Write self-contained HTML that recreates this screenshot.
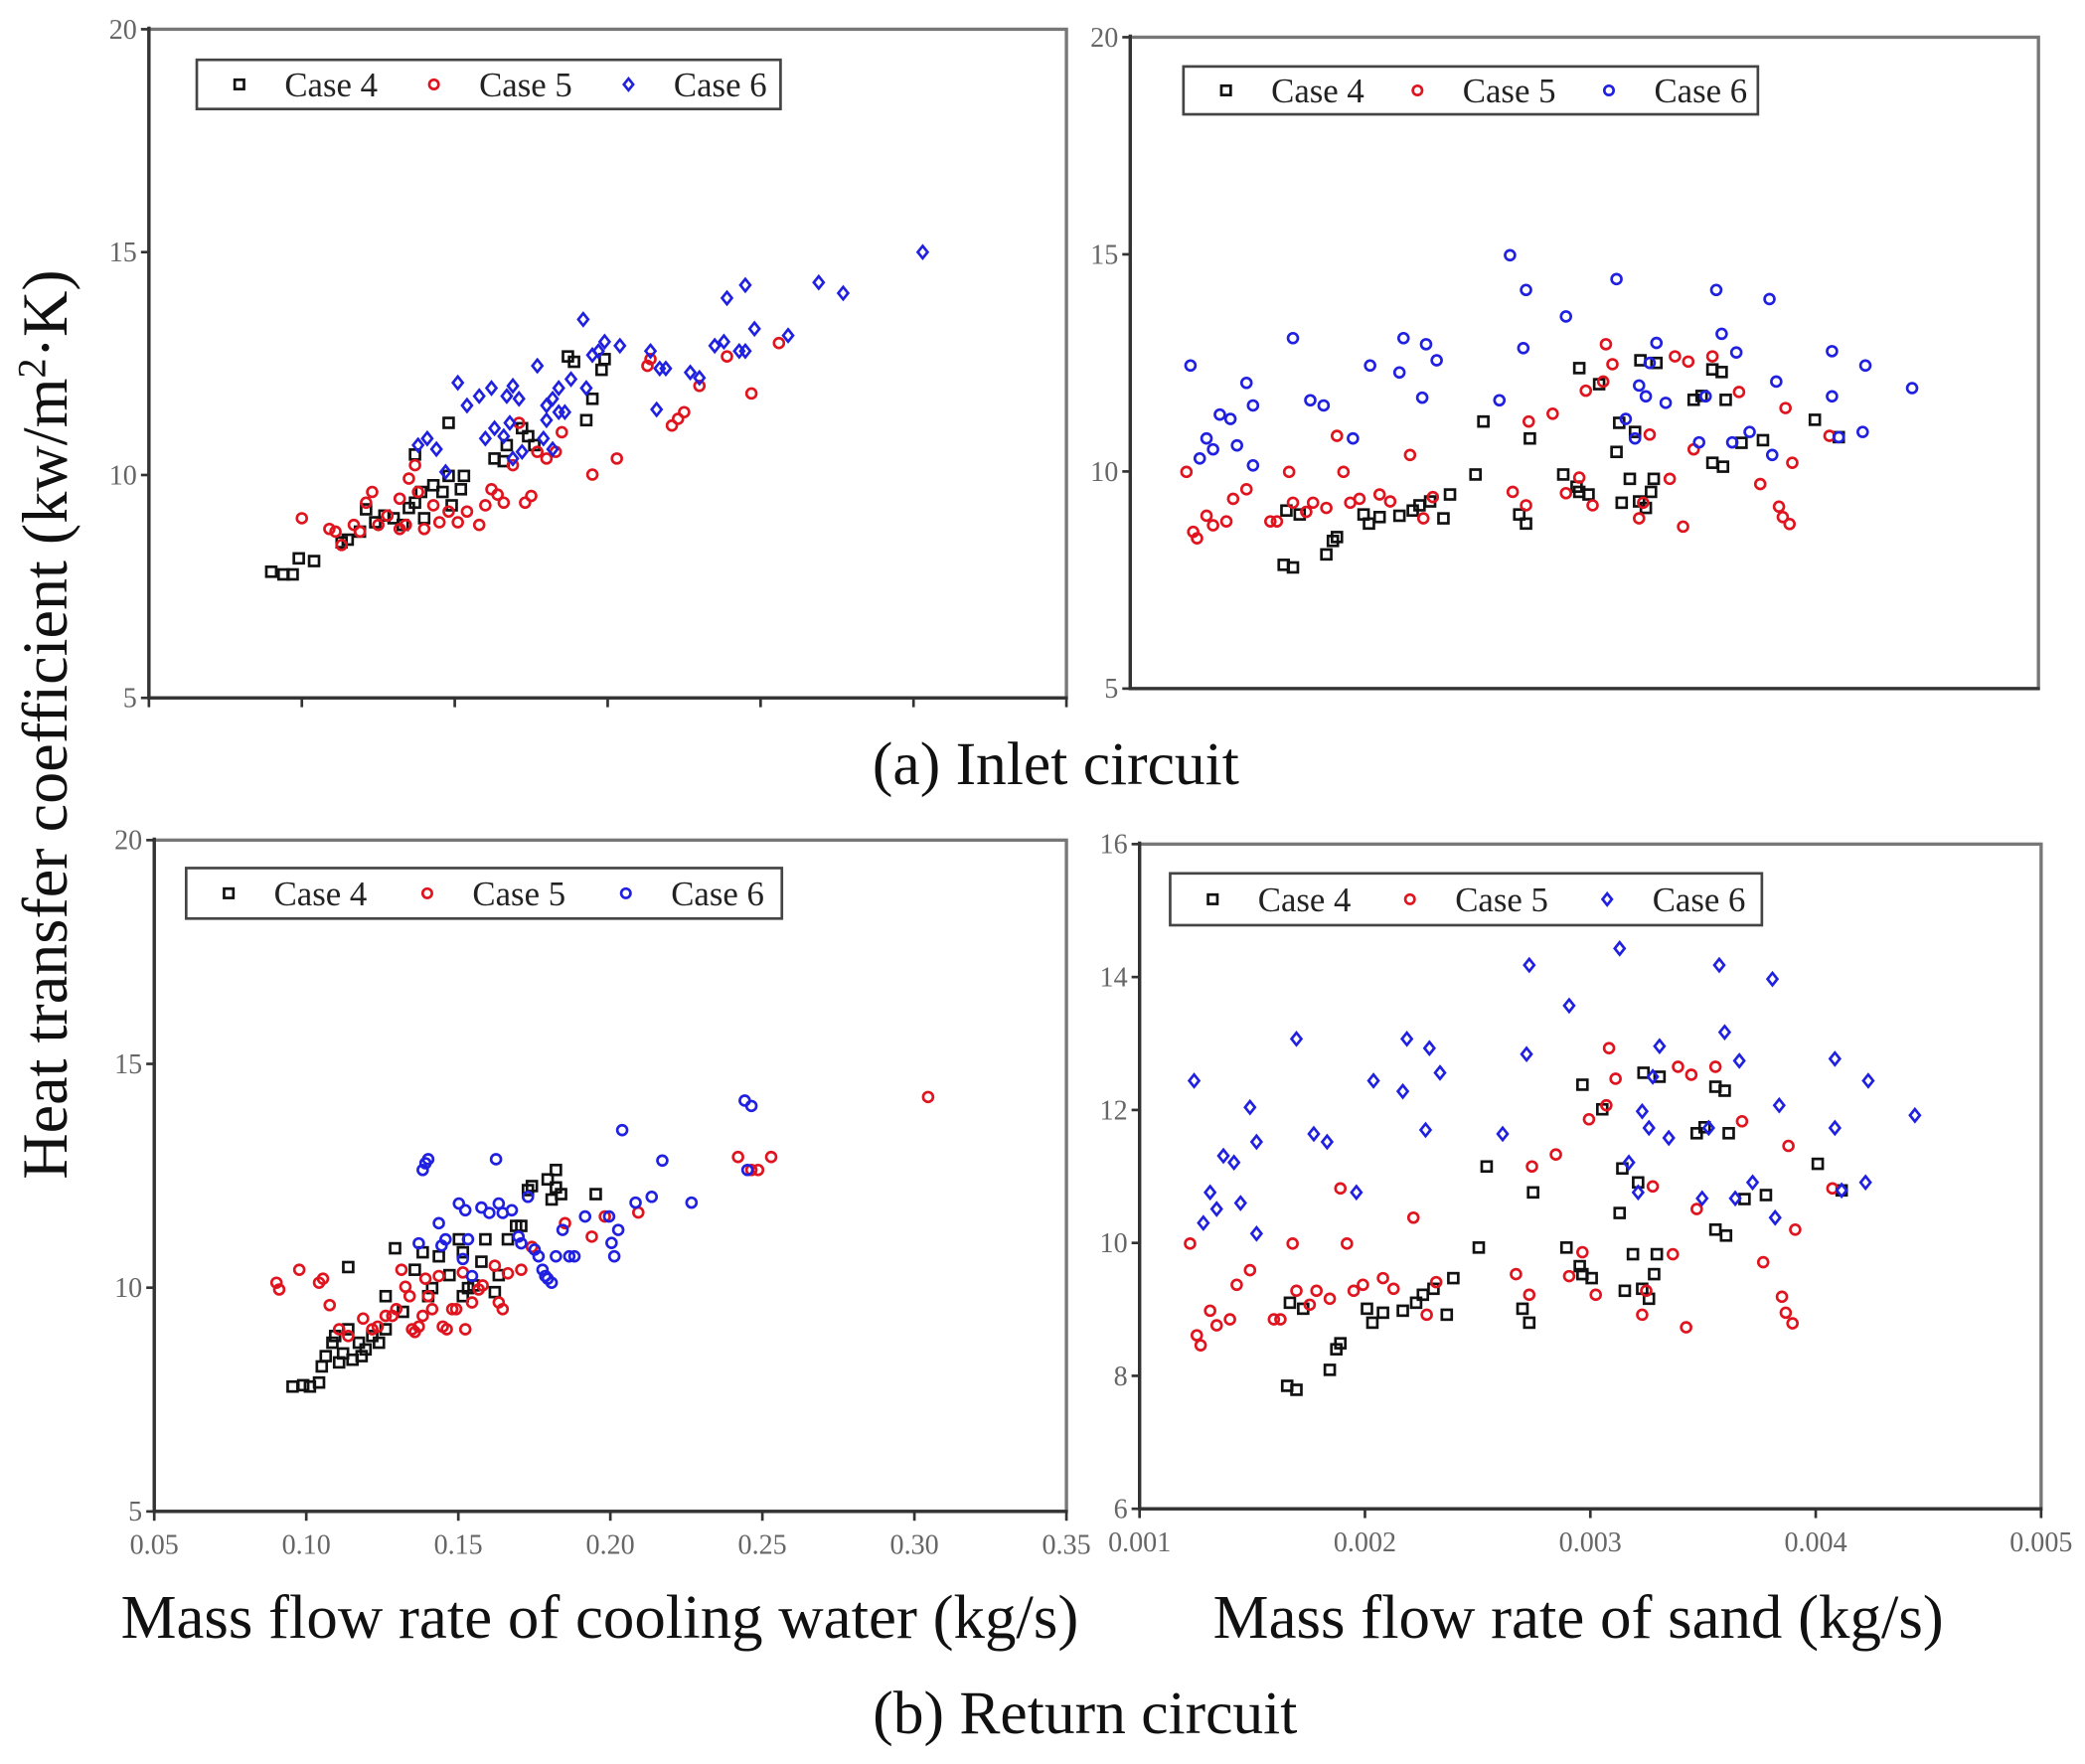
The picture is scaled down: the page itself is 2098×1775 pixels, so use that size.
<!DOCTYPE html>
<html><head><meta charset="utf-8"><style>
html,body{margin:0;padding:0;background:#fff;}
svg{display:block;}
text{font-family:"Liberation Serif",serif;}
</style></head><body>
<svg id="fig" width="2098" height="1775" viewBox="0 0 1568 1327" preserveAspectRatio="none" xmlns="http://www.w3.org/2000/svg">
<text x="50" y="545" font-size="48" transform="rotate(-90 50 545)" text-anchor="middle" fill="#111">Heat transfer coefficient (kw/m<tspan font-size="30" dy="-16">2</tspan><tspan dy="16">·K)</tspan></text>
<text x="794" y="590" font-size="46" text-anchor="middle" fill="#111">(a) Inlet  circuit</text>
<text x="816" y="1304" font-size="46" text-anchor="middle" fill="#111">(b) Return circuit</text>
<text x="451" y="1232" font-size="47" text-anchor="middle" fill="#111">Mass flow rate of cooling water (kg/s)</text>
<text x="1187" y="1232" font-size="47" text-anchor="middle" fill="#111">Mass flow rate of sand (kg/s)</text>
</svg>
<script>
// ---- Inlet circuit, cooling water (top-left) ----
const tlCase4X=[0.090,0.094,0.097,0.099,0.104,0.113,0.115,0.119,0.121,0.124,0.127,0.130,0.133,0.135,0.137,0.139,0.140,0.143,0.146,0.148,0.149,0.152,0.153,0.137,0.148,0.163,0.167,0.172,0.174,0.176,0.187,0.189,0.193,0.195,0.198,0.199,0.166];
const tlCase4Y=[7.83,7.77,7.77,8.13,8.07,8.49,8.55,8.73,9.23,8.94,9.09,9.03,8.88,9.26,9.38,9.62,9.03,9.77,9.62,9.98,9.32,9.68,9.98,10.46,11.17,10.37,10.67,11.05,10.87,10.67,12.66,12.54,11.23,11.71,12.36,12.60,10.31];
const tlCase5X=[0.100,0.109,0.111,0.113,0.117,0.119,0.121,0.123,0.125,0.128,0.132,0.134,0.135,0.137,0.138,0.140,0.143,0.145,0.148,0.151,0.154,0.158,0.160,0.162,0.164,0.166,0.169,0.171,0.173,0.175,0.180,0.183,0.185,0.195,0.203,0.213,0.214,0.221,0.223,0.225,0.230,0.247,0.256,0.239,0.177,0.132];
const tlCase5Y=[9.03,8.79,8.73,8.43,8.88,8.73,9.38,9.62,8.88,9.09,9.47,8.88,9.92,10.22,9.62,8.79,9.32,8.94,9.18,8.94,9.18,8.88,9.32,9.68,9.56,9.38,10.22,11.17,9.38,9.53,10.37,10.52,10.96,10.01,10.37,12.45,12.60,11.11,11.26,11.41,12.00,11.83,12.96,12.66,10.52,8.79];
const tlCase6X=[0.138,0.141,0.144,0.147,0.151,0.154,0.158,0.162,0.167,0.169,0.160,0.163,0.166,0.168,0.171,0.177,0.180,0.182,0.184,0.186,0.188,0.192,0.193,0.195,0.197,0.199,0.204,0.214,0.217,0.219,0.227,0.230,0.235,0.238,0.243,0.245,0.248,0.259,0.269,0.277,0.239,0.245,0.303,0.216,0.182,0.180,0.184,0.169,0.172,0.179];
const tlCase6Y=[10.67,10.82,10.58,10.07,12.07,11.56,11.77,11.95,11.77,12.00,10.82,11.05,10.87,11.17,11.71,12.45,11.56,11.71,11.95,11.41,12.15,13.49,11.95,12.69,12.78,12.99,12.90,12.78,12.39,12.39,12.30,12.18,12.90,12.99,12.78,12.78,13.28,13.13,14.32,14.08,13.97,14.26,15.00,11.47,10.58,11.23,11.41,10.37,10.52,10.82];
// ---- Sand flow (top-right and bottom-right share data) ----
const sandCase4X=[0.001655,0.001696,0.001667,0.001726,0.001844,0.001873,0.001891,0.002009,0.002033,0.002080,0.002168,0.002227,0.002257,0.002304,0.002363,0.002392,0.002505,0.002540,0.002699,0.002729,0.002746,0.002894,0.002965,0.002953,0.002965,0.003006,0.003053,0.003130,0.003142,0.003153,0.003189,0.003212,0.003236,0.003260,0.003283,0.003295,0.003307,0.003472,0.003507,0.003555,0.003602,0.003555,0.003596,0.003614,0.003684,0.003779,0.004009,0.004115,0.003230];
const sandCase4Y=[7.85,7.79,9.10,9.01,8.09,8.40,8.49,9.01,8.80,8.95,8.98,9.10,9.22,9.31,8.92,9.47,9.93,11.15,9.01,8.80,10.76,9.93,12.38,9.65,9.53,9.47,12.01,10.45,11.12,9.28,9.83,10.91,12.56,9.16,9.53,9.83,12.50,11.65,11.74,10.20,10.11,12.35,12.29,11.65,10.66,10.72,11.19,10.79,9.31];
const sandCase5X=[0.001224,0.001254,0.001271,0.001313,0.001342,0.001401,0.001431,0.001490,0.001596,0.001625,0.001679,0.001696,0.001755,0.001785,0.001844,0.001891,0.001920,0.001950,0.001991,0.002080,0.002127,0.002215,0.002274,0.002316,0.002670,0.002729,0.002741,0.002847,0.002906,0.002965,0.002994,0.003024,0.003071,0.003083,0.003112,0.003230,0.003248,0.003277,0.003366,0.003389,0.003425,0.003448,0.003472,0.003555,0.003673,0.003767,0.003850,0.003867,0.003879,0.003897,0.003909,0.004074];
const sandCase5Y=[9.99,8.61,8.46,8.98,8.76,8.85,9.37,9.59,8.85,8.85,9.99,9.28,9.07,9.28,9.16,10.82,9.99,9.28,9.37,9.47,9.31,10.38,8.92,9.41,9.53,9.22,11.15,11.33,9.50,9.86,11.86,9.22,12.07,12.93,12.47,8.92,9.28,10.85,9.83,12.65,8.73,12.53,10.51,12.65,11.83,9.71,9.19,8.95,11.46,8.79,10.20,10.82];
const sandCase6X=[0.001242,0.001283,0.001313,0.001342,0.001372,0.001419,0.001448,0.001490,0.001519,0.001519,0.001696,0.001773,0.001832,0.001962,0.002038,0.002168,0.002186,0.002269,0.002286,0.002333,0.002611,0.002658,0.002729,0.002717,0.002906,0.003130,0.003171,0.003260,0.003277,0.003307,0.003348,0.003496,0.003525,0.003572,0.003596,0.003643,0.003661,0.003720,0.003808,0.003820,0.003838,0.004085,0.004085,0.004115,0.004221,0.004233,0.004440,0.003230,0.003212];
const sandCase6Y=[12.44,10.30,10.76,10.51,11.31,11.21,10.60,12.04,10.14,11.52,13.07,11.64,11.52,10.76,12.44,12.28,13.07,11.70,12.93,12.56,11.64,14.98,14.18,12.84,13.57,14.43,11.21,11.73,12.50,12.96,11.58,10.67,11.73,14.18,13.17,10.67,12.74,10.91,13.97,10.38,12.07,12.77,11.73,10.79,10.91,12.44,11.92,11.98,10.76];
// ---- Return circuit, cooling water (bottom-left) ----
const blCase4X=[0.0955,0.0990,0.1012,0.1042,0.1051,0.1064,0.1086,0.1095,0.1108,0.1121,0.1138,0.1138,0.1152,0.1173,0.1182,0.1195,0.1217,0.1239,0.1261,0.1261,0.1292,0.1318,0.1357,0.1383,0.1401,0.1414,0.1436,0.1471,0.1502,0.1515,0.1532,0.1550,0.1576,0.1589,0.1620,0.1633,0.1663,0.1690,0.1707,0.1729,0.1742,0.1794,0.1807,0.1821,0.1821,0.1838,0.1952,0.1515];
const blCase4Y=[7.79,7.82,7.79,7.88,8.24,8.47,8.77,8.92,8.33,8.53,9.07,10.46,8.39,8.77,8.47,8.62,8.92,8.77,9.81,9.07,10.88,9.46,10.40,10.79,9.81,9.99,10.70,10.28,11.08,10.79,9.99,10.05,10.58,11.08,9.90,10.28,11.08,11.38,11.38,12.18,12.27,12.42,11.97,12.63,12.24,12.09,12.09,9.81];
const blCase5X=[0.0902,0.0911,0.0977,0.1042,0.1055,0.1077,0.1108,0.1138,0.1187,0.1217,0.1235,0.1261,0.1283,0.1296,0.1313,0.1326,0.1340,0.1348,0.1357,0.1370,0.1383,0.1392,0.1401,0.1414,0.1436,0.1449,0.1462,0.1480,0.1493,0.1515,0.1523,0.1545,0.1567,0.1580,0.1620,0.1633,0.1646,0.1663,0.1707,0.1742,0.1851,0.1939,0.1982,0.2092,0.2420,0.2464,0.2486,0.2529,0.3045];
const blCase5Y=[10.11,9.96,10.40,10.11,10.20,9.61,9.07,8.92,9.31,9.07,9.13,9.37,9.37,9.52,10.40,10.02,9.81,9.07,9.01,9.13,9.37,10.20,9.81,9.52,10.26,9.13,9.07,9.52,9.52,10.34,9.07,9.67,9.96,10.05,10.49,9.67,9.52,10.32,10.40,10.91,11.44,11.14,11.59,11.68,12.92,12.63,12.63,12.92,14.26];
const blCase6X=[0.1383,0.1392,0.1401,0.1436,0.1458,0.1502,0.1523,0.1532,0.1576,0.1602,0.1624,0.1646,0.1676,0.1698,0.1707,0.1729,0.1751,0.1764,0.1777,0.1786,0.1794,0.1807,0.1821,0.1843,0.1865,0.1882,0.1917,0.1996,0.2004,0.2013,0.2026,0.2039,0.2083,0.2136,0.2171,0.2267,0.2442,0.2464,0.2451,0.1370,0.1445,0.1515,0.1545,0.1633];
const blCase6Y=[12.63,12.78,12.87,11.44,11.08,11.88,11.73,11.08,11.79,11.67,12.87,11.67,11.73,11.14,10.99,12.03,10.85,10.70,10.40,10.26,10.20,10.11,10.70,11.29,10.70,10.70,11.59,11.59,11.00,10.70,11.29,13.52,11.90,12.03,12.84,11.90,14.18,14.06,12.63,10.99,10.94,10.64,10.26,11.88];
// ---- Axis ticks ----
const waterTicks=[0.05,0.10,0.15,0.20,0.25,0.30,0.35];
const waterTickLabels=["0.05","0.10","0.15","0.20","0.25","0.30","0.35"];
const sandTicks=[0.001,0.002,0.003,0.004,0.005];
const sandTickLabels=["0.001","0.002","0.003","0.004","0.005"];
const yTicks20=[5,10,15,20];
const yTicks16=[6,8,10,12,14,16];
const legendLabels=["Case 4","Case 5","Case 6"];

const NS="http://www.w3.org/2000/svg";
const svg=document.getElementById('fig');
function mk(tag,attrs,parent){const e=document.createElementNS(NS,tag);for(const k in attrs)e.setAttribute(k,attrs[k]);(parent||svg).appendChild(e);return e;}

function marker(g,shape,cx,cy,color,s){
  let e;
  if(shape==='sq'){e=mk('rect',{x:cx-s,y:cy-s,width:2*s,height:2*s,fill:'none',stroke:color,'stroke-width':2},g);}
  else if(shape==='dm'){e=mk('path',{d:`M${cx} ${cy-s*1.25}L${cx+s} ${cy}L${cx} ${cy+s*1.25}L${cx-s} ${cy}Z`,fill:'none',stroke:color,'stroke-width':2},g);}
  else {e=mk('circle',{cx:cx,cy:cy,r:s,fill:'none',stroke:color,'stroke-width':2},g);}
  return e;
}

function panel(p){
  const g=mk('g',{});
  
  
  const sx=v=>p.L+(v-p.xmin)/(p.xmax-p.xmin)*(p.R-p.L);
  const sy=v=>p.B-(v-p.ymin)/(p.ymax-p.ymin)*(p.B-p.T);
  const fr=mk('rect',{x:p.L,y:p.T,width:p.R-p.L,height:p.B-p.T,fill:'none',stroke:'#777','stroke-width':2.5},g);
  
  
  mk('line',{x1:p.L,y1:p.T-2,x2:p.L,y2:p.B+1,stroke:'#333','stroke-width':2.5},g);
  mk('line',{x1:p.L-1,y1:p.B,x2:p.R+1,y2:p.B,stroke:'#333','stroke-width':2.5},g);
  p.yt.forEach(v=>{
    const y=sy(v);
    mk('line',{x1:p.L-6,y1:y,x2:p.L,y2:y,stroke:'#333','stroke-width':2},g);
    const t=mk('text',{x:p.L-9,y:y+7,'font-size':21,'text-anchor':'end',fill:'#666'},g);
    t.textContent=String(v);
    
    
  });
  p.xt.forEach((v,i)=>{
    const x=sx(v);
    mk('line',{x1:x,y1:p.B,x2:x,y2:p.B+7,stroke:'#333','stroke-width':2},g);
    if(p.xl){
      const t=mk('text',{x:x,y:p.B+32,'font-size':21,'text-anchor':'middle',fill:'#666'},g);
      t.textContent=p.xl[i];
      
      
    }
  });
  const colors=['#111','#e0141e','#2020e0'];
  p.series.forEach((s,si)=>{
    const sg=mk('g',{},g);
    
    
    s.x.forEach((xv,i)=>{
      const m=marker(sg,s.shape,sx(xv),sy(s.y[i]),colors[si],3.7);
      
      
    });
  });
  const lg=mk('g',{},g);
  
  
  const lb=p.leg;
  mk('rect',{x:lb[0],y:lb[1],width:lb[2],height:lb[3],fill:'#fff',stroke:'#444','stroke-width':2},lg);
  const step=lb[2]/3;
  legendLabels.forEach((lab,i)=>{
    const bx=lb[0]+i*step;
    const cy=lb[1]+lb[3]/2;
    const ent=mk('g',{},lg);
    
    
    marker(ent,p.series[i].shape,bx+32,cy,colors[i],3.5);
    const t=mk('text',{x:bx+66,y:cy+9,'font-size':26,fill:'#222'},ent);
    t.textContent=lab;
  });
}

panel({name:'panel-inlet-water',L:112,R:802,T:22,B:525,xmin:0.05,xmax:0.35,ymin:5,ymax:20,xt:waterTicks,xl:null,yt:yTicks20,leg:[148,45,439,37],
  series:[{x:tlCase4X,y:tlCase4Y,shape:'sq'},{x:tlCase5X,y:tlCase5Y,shape:'ci'},{x:tlCase6X,y:tlCase6Y,shape:'dm'}]});
panel({name:'panel-inlet-sand',L:850,R:1533,T:28,B:518,xmin:0.000975,xmax:0.005,ymin:5,ymax:20,xt:[],xl:null,yt:yTicks20,leg:[890,50,432,36],
  series:[{x:sandCase4X,y:sandCase4Y,shape:'sq'},{x:sandCase5X,y:sandCase5Y,shape:'ci'},{x:sandCase6X,y:sandCase6Y,shape:'ci'}]});
panel({name:'panel-return-water',L:116,R:802,T:632,B:1137,xmin:0.05,xmax:0.35,ymin:5,ymax:20,xt:waterTicks,xl:waterTickLabels,yt:yTicks20,leg:[140,653,448,38],
  series:[{x:blCase4X,y:blCase4Y,shape:'sq'},{x:blCase5X,y:blCase5Y,shape:'ci'},{x:blCase6X,y:blCase6Y,shape:'ci'}]});
panel({name:'panel-return-sand',L:857,R:1535,T:635,B:1135,xmin:0.001,xmax:0.005,ymin:6,ymax:16,xt:sandTicks,xl:sandTickLabels,yt:yTicks16,leg:[880,657,445,39],
  series:[{x:sandCase4X,y:sandCase4Y,shape:'sq'},{x:sandCase5X,y:sandCase5Y,shape:'ci'},{x:sandCase6X,y:sandCase6Y,shape:'dm'}]});
</script>
</body></html>
